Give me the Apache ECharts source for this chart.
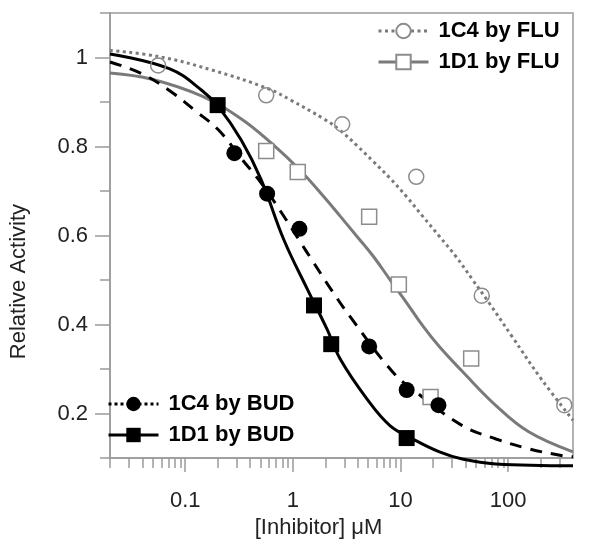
<!DOCTYPE html>
<html>
<head>
<meta charset="utf-8">
<script src="https://cdn.jsdelivr.net/npm/echarts@6/dist/echarts.min.js"></script>
<style>
  html, body { margin: 0; padding: 0; background: #fff; }
  #chart { width: 600px; height: 544px; }
</style>
</head>
<body>
<div id="chart"></div>
<script>
// measured points [conc uM, relative activity]
const fluC4Pts = [[0.056, 0.982], [0.565, 0.915], [2.87, 0.85], [14.0, 0.732], [56.8, 0.465], [332, 0.219]]
const fluD1Pts = [[0.565, 0.79], [1.11, 0.743], [5.11, 0.642], [9.64, 0.49], [45.3, 0.324], [19.0, 0.237]]
const budC4Pts = [[0.286, 0.785], [0.576, 0.694], [1.15, 0.615], [5.11, 0.351], [11.4, 0.253], [22.5, 0.219]]
const budD1Pts = [[0.2, 0.893], [1.57, 0.443], [2.27, 0.356], [11.4, 0.145]]

// fitted curves
const fluC4Fit = [[0.02, 1.016], [0.057, 1.002], [0.176, 0.972], [0.589, 0.93], [0.958, 0.904], [1.94, 0.862], [2.76, 0.836], [3.94, 0.802], [5.6, 0.766], [7.97, 0.729], [11.4, 0.687], [16.1, 0.643], [23, 0.598], [32.7, 0.553], [46.6, 0.501], [66.3, 0.449], [108, 0.374], [204, 0.277], [400, 0.185]]
const fluD1Fit = [[0.02, 0.965], [0.049, 0.951], [0.143, 0.913], [0.332, 0.862], [0.628, 0.808], [1.185, 0.745], [1.94, 0.687], [2.76, 0.643], [3.94, 0.598], [5.6, 0.553], [7.97, 0.501], [11.4, 0.449], [16.1, 0.397], [23, 0.35], [37.4, 0.295], [77, 0.218], [155, 0.159], [400, 0.114]]
const budC4Fit = [[0.02, 0.99], [0.04, 0.963], [0.075, 0.922], [0.123, 0.881], [0.204, 0.837], [0.332, 0.773], [0.508, 0.718], [0.776, 0.653], [1.14, 0.59], [1.57, 0.538], [2.32, 0.475], [3.54, 0.412], [8.5, 0.293], [14, 0.248], [37.4, 0.173], [77, 0.143], [155, 0.121], [311, 0.106], [400, 0.103]]
const budD1Fit = [[0.02, 1.008], [0.071, 0.975], [0.143, 0.926], [0.204, 0.889], [0.332, 0.814], [0.508, 0.725], [0.826, 0.59], [1.365, 0.479], [2.08, 0.389], [2.76, 0.322], [4.87, 0.233], [7.97, 0.173], [13, 0.143], [23, 0.114], [37.4, 0.098], [77, 0.087], [400, 0.083]]

const xMajor = [0.1, 1, 10, 100]
const xMinor = [0.02, 0.03, 0.04, 0.05, 0.06, 0.07, 0.08, 0.09, 0.2, 0.3, 0.4, 0.5, 0.6, 0.7, 0.8, 0.9, 2, 3, 4, 5, 6, 7, 8, 9, 20, 30, 40, 50, 60, 70, 80, 90, 200, 300]
const yMajor = [0.2, 0.4, 0.6, 0.8, 1]
const yMinor = [0.1, 0.3, 0.5, 0.7, 0.9, 1.1]

const FONT = 'Liberation Sans, Arial, sans-serif'
const AXIS_GRAY = '#9a9a9a'
const LINE_GRAY = '#7a7a7a'
const MARK_GRAY = '#8c8c8c'
const TEXT = '#222'

const axisLineStyle = { color: AXIS_GRAY, width: 1.5 }
const legendText = { fontFamily: FONT, fontSize: 22, fontWeight: 'bold', color: '#000', padding: [0, 0, 0, 5] }

const option = {
  backgroundColor: '#fff',
  animation: false,
  textStyle: { fontFamily: FONT },
  grid: {
    left: 107, top: 13, right: 27, bottom: 85,
    containLabel: false,
    show: true, borderColor: AXIS_GRAY, borderWidth: 1.5
  },
  legend: [
    {
      orient: 'vertical', left: 377, top: 20, padding: 0,
      itemWidth: 50, itemHeight: 18, itemGap: 9,
      lineStyle: { width: 3 },
      textStyle: legendText,
      data: ['1C4 by FLU', '1D1 by FLU']
    },
    {
      orient: 'vertical', left: 107, top: 393, padding: 0,
      itemWidth: 50, itemHeight: 18, itemGap: 9,
      lineStyle: { width: 3 },
      textStyle: legendText,
      data: [
        { name: '1C4 by BUD', lineStyle: { type: [3, 3] } },
        '1D1 by BUD'
      ]
    }
  ],
  xAxis: [
    {
      type: 'log', logBase: 10, min: 0.02, max: 400,
      position: 'bottom',
      name: '[Inhibitor] μM', nameLocation: 'middle', nameGap: 50,
      nameTextStyle: { fontFamily: FONT, fontSize: 22, color: TEXT, padding: [0, 46, 0, 0] },
      axisLine: { lineStyle: axisLineStyle },
      axisTick: { length: 14, lineStyle: axisLineStyle },
      axisLabel: {
        fontFamily: FONT, fontSize: 22, color: TEXT, margin: 32,
        showMinLabel: false, showMaxLabel: false,
        formatter: v => (xMajor.indexOf(v) >= 0 ? String(v) : '')
      },
      splitLine: { show: false }
    },
    {
      type: 'log', logBase: 10, min: 0.02, max: 400,
      position: 'bottom',
      axisLine: { show: false },
      axisTick: { length: 10, lineStyle: axisLineStyle, customValues: xMinor },
      axisLabel: { show: false },
      splitLine: { show: false }
    }
  ],
  yAxis: [
    {
      type: 'value', min: 0.1, max: 1.1, position: 'left',
      name: 'Relative Activity', nameLocation: 'middle', nameGap: 80,
      nameTextStyle: { fontFamily: FONT, fontSize: 22, color: TEXT, padding: [0, 92, 0, 0] },
      axisLine: { show: true, lineStyle: axisLineStyle },
      axisTick: { show: true, length: 15, lineStyle: axisLineStyle, customValues: yMajor },
      axisLabel: { fontFamily: FONT, fontSize: 22, color: TEXT, margin: 22, customValues: yMajor },
      splitLine: { show: false }
    },
    {
      type: 'value', min: 0.1, max: 1.1, position: 'left',
      axisLine: { show: false },
      axisTick: { show: true, length: 10, lineStyle: axisLineStyle, customValues: yMinor },
      axisLabel: { show: false },
      splitLine: { show: false }
    }
  ],
  series: [
    {
      name: '1C4 by FLU', type: 'line', data: fluC4Fit,
      smooth: 0.4, symbol: 'emptyCircle', showSymbol: false,
      lineStyle: { color: LINE_GRAY, width: 3, type: [3, 3.5] },
      itemStyle: { color: MARK_GRAY }, z: 2, silent: true
    },
    {
      name: '1D1 by FLU', type: 'line', data: fluD1Fit,
      smooth: 0.4, symbol: 'emptyRect', showSymbol: false,
      lineStyle: { color: LINE_GRAY, width: 3 },
      itemStyle: { color: MARK_GRAY }, z: 2, silent: true
    },
    {
      name: '1C4 by BUD', type: 'line', data: budC4Fit,
      smooth: 0.4, symbol: 'circle', showSymbol: false,
      lineStyle: { color: '#000', width: 3, type: [12, 9] },
      itemStyle: { color: '#000' }, z: 3, silent: true
    },
    {
      name: '1D1 by BUD', type: 'line', data: budD1Fit, clip: false,
      smooth: 0.4, symbol: 'rect', showSymbol: false,
      lineStyle: { color: '#000', width: 3 },
      itemStyle: { color: '#000' }, z: 3, silent: true
    },
    {
      type: 'scatter', data: fluC4Pts, symbol: 'circle', symbolSize: 15,
      itemStyle: { color: 'rgba(0,0,0,0)', borderColor: MARK_GRAY, borderWidth: 1.5, opacity: 1 }, z: 4
    },
    {
      type: 'scatter', data: fluD1Pts, symbol: 'rect', symbolSize: 15,
      itemStyle: { color: '#fff', borderColor: MARK_GRAY, borderWidth: 1.5, opacity: 1 }, z: 4
    },
    {
      type: 'scatter', data: budC4Pts, symbol: 'circle', symbolSize: 16,
      itemStyle: { color: '#000', opacity: 1 }, z: 5
    },
    {
      type: 'scatter', data: budD1Pts, symbol: 'rect', symbolSize: 16,
      itemStyle: { color: '#000', opacity: 1 }, z: 5
    }
  ]
}

const chart = echarts.init(document.getElementById('chart'))
chart.setOption(option)
</script>
</body>
</html>
